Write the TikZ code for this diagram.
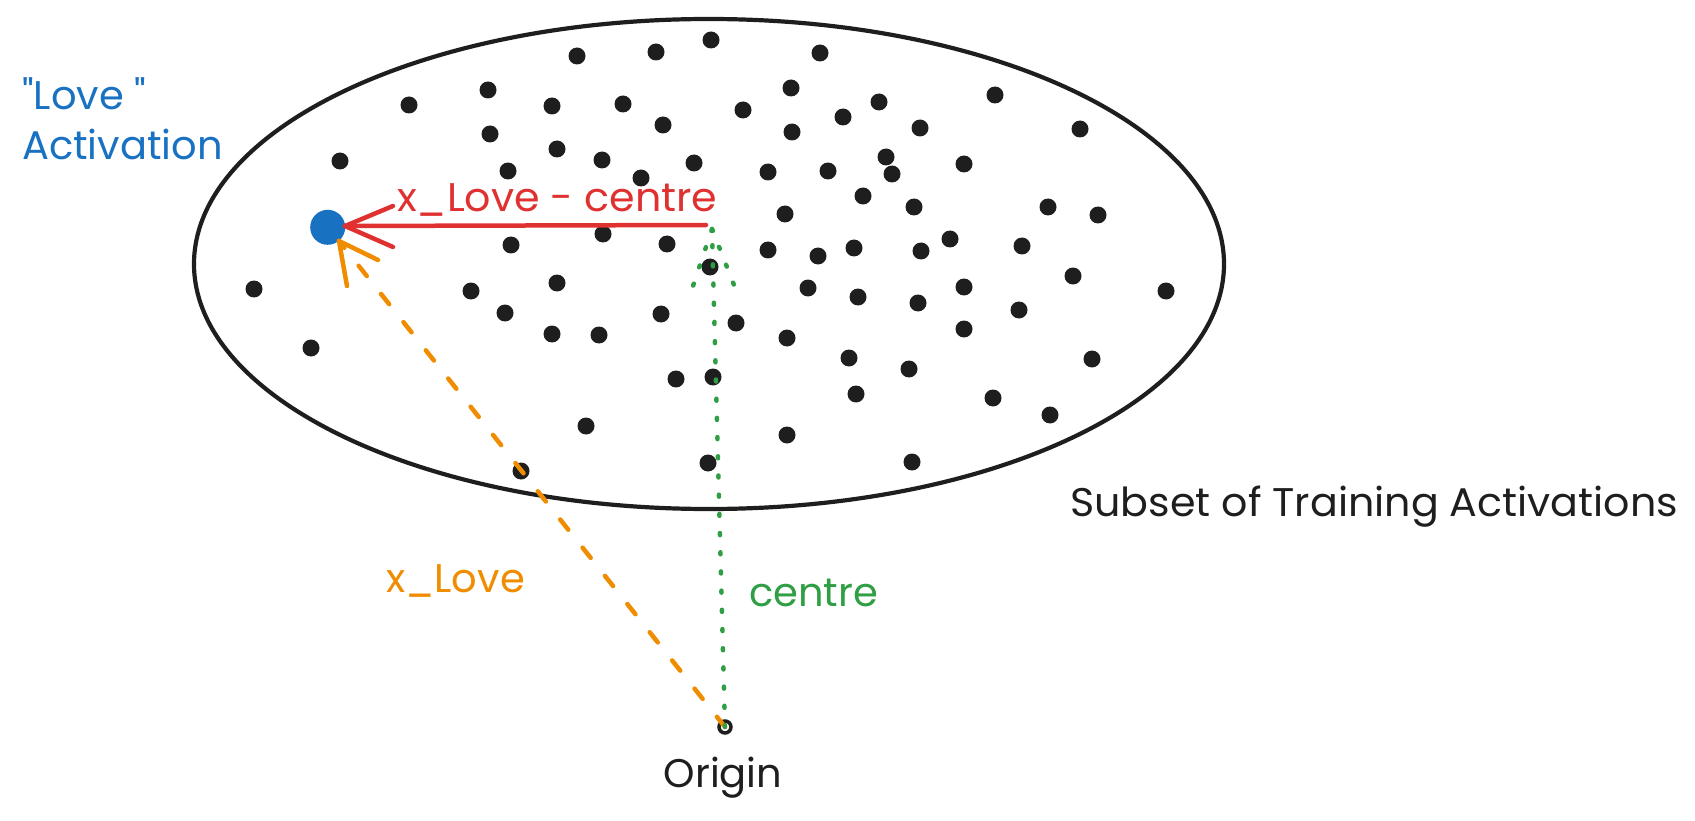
\documentclass[tikz,border=0pt]{standalone}
\usepackage{fontspec}
\setmainfont{Poppins}
\usetikzlibrary{shapes.geometric}
\definecolor{ink}{HTML}{1E1E1E}
\definecolor{blueC}{HTML}{1971C2}
\definecolor{redC}{HTML}{E03131}
\definecolor{orangeC}{HTML}{F08C00}
\definecolor{greenC}{HTML}{2F9E44}
\begin{document}
\begin{tikzpicture}[x=1pt, y=-1pt,
  dotnode/.style={circle, fill=ink, inner sep=0pt, minimum size=17pt},
  lbl/.style={inner sep=0pt, anchor=base west, font=\fontsize{40}{48}\selectfont},
  rline/.style={draw=redC, line width=4.5pt, line cap=round},
  oline/.style={draw=orangeC, line width=4.5pt, line cap=round},
  gline/.style={draw=greenC, line width=4.5pt, line cap=round},
  odash/.style={dash pattern=on 13pt off 23pt},
  gdot/.style={dash pattern=on 2pt off 17.2pt}]
\useasboundingbox (0,0) rectangle (1695,821);
% cloud of training activations
\node[draw=ink, line width=4.2pt, ellipse, inner sep=0pt, outer sep=0pt,
      minimum width=1030pt, minimum height=490pt] (cloud) at (709,264) {};
\foreach \x/\y [count=\i] in {409/105, 488/90, 490/134, 340/161, 508/171, 511/245,
  577/56, 656/52, 711/40, 820/53, 552/106, 623/104, 743/110, 791/88, 879/102,
  663/125, 792/132, 843/117, 557/149, 602/160, 694/163, 641/178, 768/172, 828/171,
  886/157, 892/174, 863/196, 785/214, 603/234, 667/244, 768/250, 818/256, 854/248,
  710/267, 995/95, 920/128, 1080/129, 964/164, 914/207, 1048/207, 1098/215,
  950/239, 921/251, 1022/246, 1073/276, 254/289, 311/348, 471/291, 505/313,
  521/471, 557/283, 661/314, 736/323, 808/288, 858/297, 552/334, 599/335,
  787/338, 849/358, 676/379, 713/377, 856/394, 586/426, 787/435, 708/463,
  918/303, 964/287, 1166/291, 1019/310, 964/329, 909/369, 1092/359, 993/398,
  1050/415, 912/462}
  \node[dotnode] (d\i) at (\x,\y) {};
% key points
\node[circle, fill=blueC, inner sep=0pt, minimum size=35pt] (love) at (327.7,227.3) {};
\node[circle, draw=ink, line width=3.5pt, inner sep=0pt, minimum size=12pt] (origin) at (725,727) {};
\coordinate (centre) at (706,225);
\coordinate (gtip) at (712,229);
\coordinate (rtip) at (345,226);
\coordinate (rb1) at (393,206);
\coordinate (rb2) at (393,247);
\coordinate (otip) at (339,241);
\coordinate (ob1) at (378,260);
\coordinate (ob2) at (347,286);
\coordinate (gb1) at (693,286);
\coordinate (gb2) at (734,285);
% arrows
\draw[oline, odash] (origin.center) -- (otip);
\draw[oline] (otip) -- (ob1);
\draw[oline] (otip) -- (ob2);
\draw[gline, gdot] (origin.center) -- (gtip);
\draw[gline, gdot] (gtip) -- (gb1);
\draw[gline, gdot] (gtip) -- (gb2);
\draw[rline] (centre) -- (rtip);
\draw[rline] (rtip) -- (rb1);
\draw[rline] (rtip) -- (rb2);
% labels
\node[lbl, text=blueC] (lovelbl) at (22,110) {\textquotedbl Love \textquotedbl};
\node[lbl, text=blueC] (actlbl) at (22,160) {Activation};
\node[lbl, text=redC] (difflbl) at (397,212) {\scalebox{1.03}[1]{x\_Love - centre}};
\node[lbl, text=orangeC] (xlbl) at (386,592) {x\_Love};
\node[lbl, text=greenC] (clbl) at (749,606) {centre};
\node[lbl, text=ink] (subsetlbl) at (1070,516) {\scalebox{1.03}[1]{Subset of Training Activations}};
\node[lbl, text=ink, anchor=base] (originlbl) at (723,787) {Origin};
\end{tikzpicture}
\end{document}
